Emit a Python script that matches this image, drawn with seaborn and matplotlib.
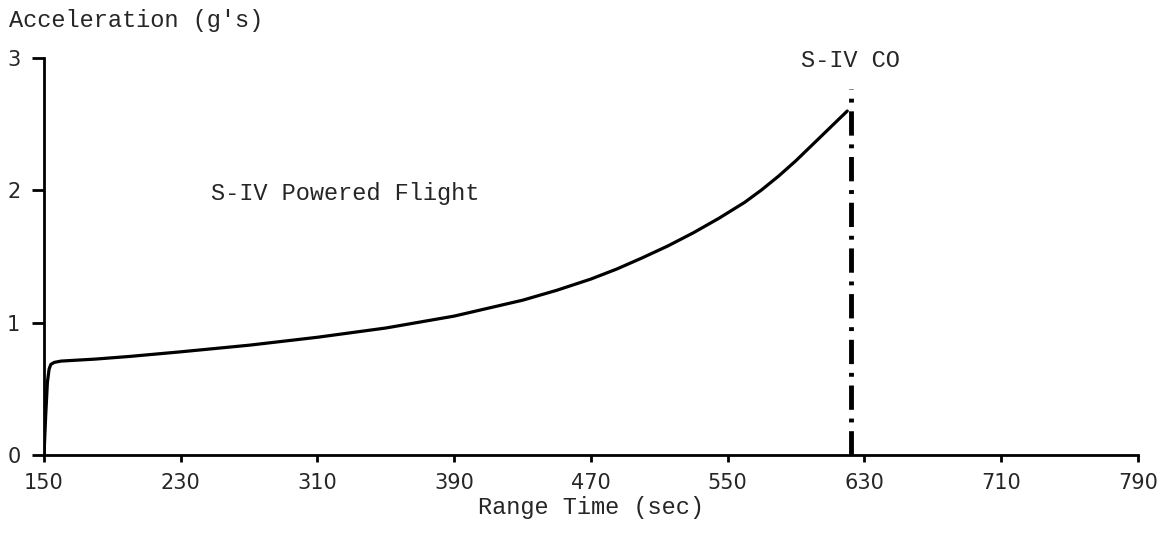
import matplotlib
matplotlib.use("Agg")
import matplotlib.pyplot as plt
import seaborn as sns
import pandas as pd

# Data
time_sec = [150, 151, 152, 153, 154, 156, 160, 180, 200, 230, 270, 310, 350, 390,
            430, 450, 470, 485, 500, 515, 530, 545, 560, 570, 580, 590, 600, 610, 620]
accel_g = [0.0, 0.30, 0.55, 0.65, 0.685, 0.70, 0.71, 0.725, 0.745, 0.78, 0.83, 0.89, 0.96, 1.05,
           1.17, 1.245, 1.33, 1.405, 1.49, 1.58, 1.68, 1.79, 1.91, 2.005, 2.11, 2.225, 2.35, 2.475, 2.60]
cutoff_time = 622
cutoff_top = 2.77
x_ticks = [150, 230, 310, 390, 470, 550, 630, 710, 790]
y_ticks = [0, 1, 2, 3]

df = pd.DataFrame({"t": time_sec, "a": accel_g})

sns.set_style("ticks")
mono = ["Liberation Mono", "DejaVu Sans Mono"]
plt.rcParams["font.family"] = ["DejaVu Sans"]

fig = plt.figure(figsize=(11.73, 5.33), dpi=100)
ax = fig.add_axes([0.0375, 0.1463, 0.9325, 0.7447])

sns.lineplot(data=df, x="t", y="a", ax=ax, color="black", linewidth=2.3, sort=False)
ax.plot([cutoff_time, cutoff_time], [0, cutoff_top], color="black", linewidth=3.5,
        dashes=(5, 1.8, 0.8, 1.8), solid_capstyle="butt")

ax.set_xlim(150, 790)
ax.set_ylim(0, 3)
ax.set_xticks(x_ticks)
ax.set_yticks(y_ticks)
ax.tick_params(axis="x", direction="out", length=5, width=2, labelsize=15, pad=8, color="black")
ax.tick_params(axis="y", direction="out", length=9, width=2, labelsize=15, pad=8, color="black")
for s in ["top", "right"]:
    ax.spines[s].set_visible(False)
for s in ["left", "bottom"]:
    ax.spines[s].set_linewidth(2)
    ax.spines[s].set_color("black")

ax.set_xlabel("Range Time (sec)", family=mono, fontsize=17, labelpad=2)
ax.set_ylabel("")
fig.text(0.008, 0.962, "Acceleration (g's)", family=mono, fontsize=17, va="center", ha="left")
ax.text(248, 1.98, "S-IV Powered Flight", family=mono, fontsize=17, va="center", ha="left")
ax.text(cutoff_time, 2.98, "S-IV CO", family=mono, fontsize=17, va="center", ha="center")

fig.savefig("out.png", dpi=100, facecolor="white")
